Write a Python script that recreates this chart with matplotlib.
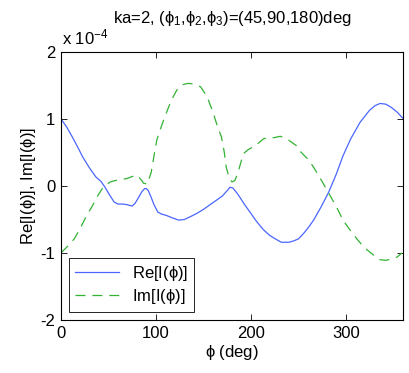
import matplotlib
matplotlib.use("Agg")
import matplotlib.pyplot as plt
from matplotlib.ticker import FixedLocator

plt.rcParams["font.family"] = ["Liberation Sans", "DejaVu Sans"]
plt.rcParams["mathtext.fontset"] = "custom"
plt.rcParams["mathtext.rm"] = "Liberation Sans"
plt.rcParams["mathtext.it"] = "Liberation Sans"
plt.rcParams["mathtext.default"] = "regular"

# Re[I(phi)], units of 1e-4
re_phi = [0, 6, 12, 18, 23, 30, 37, 42, 46, 51, 56, 60, 65, 70, 75, 78, 81, 85,
          88, 90, 92, 95, 98, 102, 106, 111, 118, 124, 130, 136, 143, 150, 157,
          164, 170, 175, 178, 181, 185, 188, 193, 199, 206, 213, 220, 227, 232,
          240, 245, 250, 256, 261, 266, 274, 282, 290, 297, 305, 315, 325, 331,
          336, 342, 348, 354, 360]
re_val = [1.0, 0.88, 0.73, 0.57, 0.43, 0.27, 0.13, 0.07, -0.01, -0.13, -0.24,
          -0.27, -0.27, -0.28, -0.30, -0.26, -0.19, -0.09, -0.04, -0.04, -0.07,
          -0.17, -0.28, -0.39, -0.42, -0.44, -0.48, -0.51, -0.50, -0.46, -0.41,
          -0.35, -0.28, -0.21, -0.15, -0.07, -0.02, -0.03, -0.10, -0.16, -0.27,
          -0.39, -0.53, -0.65, -0.74, -0.80, -0.84, -0.84, -0.82, -0.79, -0.70,
          -0.61, -0.51, -0.31, -0.09, 0.18, 0.45, 0.70, 0.95, 1.13, 1.20, 1.23,
          1.22, 1.17, 1.10, 1.01]

# Im[I(phi)]
im_phi = [0, 7, 14, 20, 26, 33, 39, 43, 47, 52, 57, 63, 69, 75, 80, 84, 87, 91,
          95, 98, 101, 106, 111, 116, 122, 128, 134, 140, 147, 154, 160, 165,
          169, 172, 174, 177, 180, 183, 186, 189, 192, 197, 202, 208, 213, 217,
          224, 231, 238, 243, 248, 253, 260, 266, 274, 282, 290, 297, 304, 311,
          317, 322, 329, 336, 342, 348, 354, 359]
im_val = [-1.0, -0.90, -0.79, -0.64, -0.47, -0.30, -0.14, -0.05, 0.01, 0.06,
          0.08, 0.09, 0.11, 0.14, 0.16, 0.10, 0.04, 0.03, 0.20, 0.45, 0.69, 0.90,
          1.09, 1.27, 1.43, 1.51, 1.53, 1.52, 1.48, 1.33, 1.10, 0.88, 0.73, 0.50,
          0.28, 0.13, 0.06, 0.08, 0.18, 0.33, 0.48, 0.54, 0.58, 0.64, 0.70, 0.72,
          0.72, 0.74, 0.70, 0.65, 0.60, 0.50, 0.40, 0.28, 0.09, -0.11, -0.31,
          -0.51, -0.65, -0.78, -0.88, -0.95, -1.03, -1.10, -1.11, -1.09, -1.06,
          -1.00]

x_ticks = [0, 100, 200, 300]
y_ticks = [-2, -1, 0, 1, 2]

fig = plt.figure(figsize=(4.09, 3.73), dpi=100)
ax = fig.add_axes([0.149, 0.142, 0.836, 0.719])

ax.plot(re_phi, re_val, color="#4a66ff", lw=0.9, label=r"Re[I($\phi$)]")
ax.plot(im_phi, im_val, color="#33b233", lw=0.9, dashes=(8, 5.5),
        label=r"Im[I($\phi$)]")

ax.set_xlim(0, 360)
ax.set_ylim(-2, 2)
ax.xaxis.set_major_locator(FixedLocator(x_ticks))
ax.yaxis.set_major_locator(FixedLocator(y_ticks))
ax.set_yticklabels([str(v) for v in y_ticks])
ax.tick_params(direction="in", top=True, right=True, length=4, width=0.6,
               labelsize=12, pad=4)
for s in ax.spines.values():
    s.set_linewidth(0.8)

ax.set_xlabel(r"$\phi$ (deg)", fontsize=12, labelpad=2)
ax.set_ylabel(r"Re[I($\phi$)], Im[I($\phi$)]", fontsize=12, labelpad=2)
ax.set_title(r"ka=2, ($\phi_1$,$\phi_2$,$\phi_3$)=(45,90,180)deg",
             fontsize=12, pad=21)
fig.text(0.152, 0.872, r"x 10$^{-4}$", fontsize=12, ha="left", va="bottom")

leg = ax.legend(loc="lower left", bbox_to_anchor=(0.025, 0.03), fontsize=12,
                fancybox=False, framealpha=1, edgecolor="black",
                handlelength=2.6, borderpad=0.35, labelspacing=0.25,
                borderaxespad=0)
leg.get_frame().set_linewidth(0.6)

fig.savefig("out.png", dpi=100)
